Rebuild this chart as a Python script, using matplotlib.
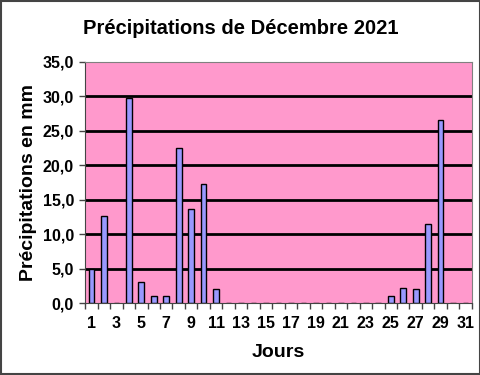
import numpy as np
import matplotlib.pyplot as plt
from matplotlib.ticker import FuncFormatter

# daily rainfall, December 2021 (mm)
days = list(range(1, 32))
rain = [5.0, 12.7, 0, 29.7, 3.1, 1.0, 1.0, 22.5, 13.6, 17.3, 2.0,
        0, 0, 0, 0, 0, 0, 0, 0, 0, 0, 0, 0, 0,
        1.0, 2.2, 2.0, 11.4, 26.6, 0, 0]
day_labels = [str(d) for d in days if d % 2 == 1]

plt.rcParams['font.family'] = ['Liberation Sans', 'DejaVu Sans']
plt.rcParams['font.weight'] = 'bold'

fig = plt.figure(figsize=(4.81, 3.75), dpi=100)
ax = fig.add_axes([0.177, 0.192, 0.804, 0.643])
ax.set_facecolor('#FF99CC')

for y in range(5, 35, 5):
    ax.axhline(y, color='black', lw=2, zorder=1)

ax.bar(days, rain, width=0.45, color='#9999FF', edgecolor='black', lw=1, zorder=2)

ax.set_xlim(0.5, 31.5)
ax.set_ylim(0, 35)
ax.set_xticks([d for d in days if d % 2 == 1])
ax.set_xticklabels(day_labels, fontsize=11.5, fontweight='bold')
ax.set_xticks(np.arange(0.5, 32, 1), minor=True)
ax.tick_params(axis='x', which='major', length=0, pad=9)
ax.tick_params(axis='x', which='minor', length=4, width=1, color='#444444')
ax.set_yticks(range(0, 36, 5))
ax.yaxis.set_major_formatter(FuncFormatter(lambda v, p: f'{v:.1f}'.replace('.', ',')))
ax.tick_params(axis='y', length=4, width=1, color='#444444', labelsize=11.5, pad=4)
for lab in ax.get_yticklabels():
    lab.set_fontweight('bold')

for s in ['top', 'right']:
    ax.spines[s].set_color('#808080')
for s in ['left', 'bottom']:
    ax.spines[s].set_color('#444444')

ax.set_xlabel('Jours', fontsize=14, fontweight='bold', labelpad=10)
ax.set_ylabel('Précipitations en mm', fontsize=14, fontweight='bold', labelpad=4)
fig.text(0.5, 0.925, 'Précipitations de Décembre 2021', ha='center', va='center',
         fontsize=14.5, fontweight='bold')

fig.patches.append(plt.Rectangle((0.002, 0.003), 0.995, 0.994, transform=fig.transFigure,
                                 fill=False, edgecolor='#444444', lw=1.5))

fig.savefig('out.png', dpi=100)
